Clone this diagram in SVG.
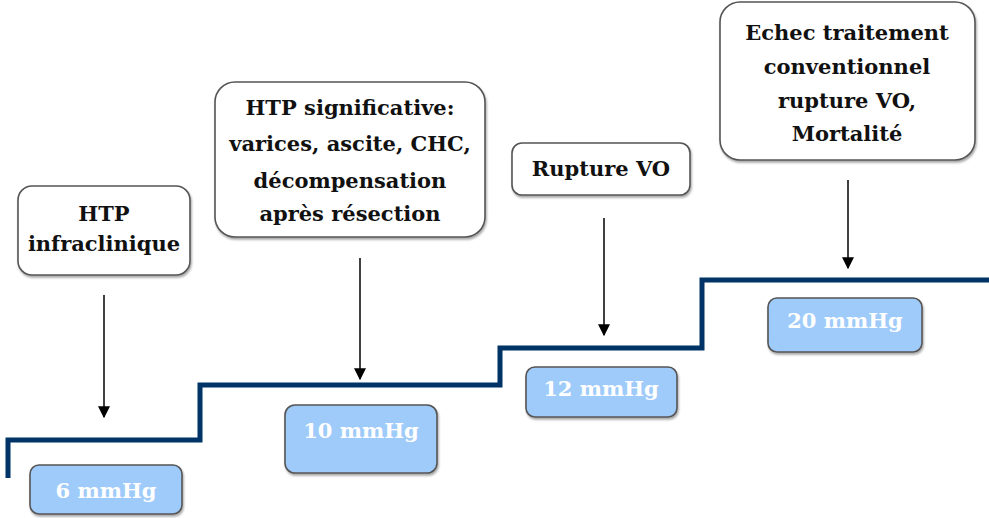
<svg xmlns="http://www.w3.org/2000/svg" width="989" height="518" viewBox="0 0 989 518">
  <defs>
    <marker id="arrow" viewBox="0 0 10 10" refX="9" refY="5" markerWidth="12" markerHeight="12" markerUnits="userSpaceOnUse" orient="auto">
      <path d="M0,0 L10,5 L0,10 z" fill="#000"/>
    </marker>
    <filter id="shadow" x="-10%" y="-10%" width="120%" height="130%">
      <feDropShadow dx="1" dy="2" stdDeviation="1.2" flood-color="#000" flood-opacity="0.35"/>
    </filter>
  </defs>
  <style>
    .box { fill: #ffffff; stroke: #555555; stroke-width: 1.6; filter: url(#shadow); }
    .pbox { fill: #9fcbfa; stroke: #555555; stroke-width: 1.6; filter: url(#shadow); }
    .lbl { font-family: "DejaVu Serif", "Liberation Serif", serif; font-weight: bold; font-size: 21px; fill: #111111; text-anchor: middle; }
    .plbl { font-family: "DejaVu Serif", "Liberation Serif", serif; font-weight: bold; font-size: 21px; fill: #ffffff; text-anchor: middle; }
    .arr { stroke: #000; stroke-width: 1.5; fill: none; marker-end: url(#arrow); }
    .stair { stroke: #003366; stroke-width: 5; fill: none; }
  </style>

  <rect width="989" height="518" fill="#ffffff"/>

  <!-- pressure staircase and arrows -->
  <g id="connectors">
    <path class="stair" d="M8,478 V440 H200 V385 H500 V348 H702 V280 H989"/>
    <line class="arr" x1="104" y1="295" x2="104" y2="417"/>
    <line class="arr" x1="360" y1="258" x2="360" y2="379"/>
    <line class="arr" x1="604" y1="218" x2="604" y2="335"/>
    <line class="arr" x1="848" y1="180" x2="848" y2="268"/>
  </g>

  <g id="node-infraclinique">
    <rect class="box" x="18" y="186" width="172" height="89" rx="14"/>
    <text class="lbl" x="104" y="221">HTP</text>
    <text class="lbl" x="104" y="251">infraclinique</text>
  </g>

  <g id="node-significative">
    <rect class="box" x="215" y="82" width="270" height="155" rx="20"/>
    <text class="lbl" x="350" y="115">HTP significative:</text>
    <text class="lbl" x="350" y="151">varices, ascite, CHC,</text>
    <text class="lbl" x="350" y="188">décompensation</text>
    <text class="lbl" x="350" y="221">après résection</text>
  </g>

  <g id="node-rupture">
    <rect class="box" x="512" y="143" width="178" height="52" rx="10"/>
    <text class="lbl" x="601" y="176">Rupture VO</text>
  </g>

  <g id="node-echec">
    <rect class="box" x="720" y="2" width="255" height="158" rx="20"/>
    <text class="lbl" x="847" y="40">Echec traitement</text>
    <text class="lbl" x="847" y="74">conventionnel</text>
    <text class="lbl" x="847" y="108">rupture VO,</text>
    <text class="lbl" x="847" y="141">Mortalité</text>
  </g>

  <g id="p6">
    <rect class="pbox" x="30" y="465" width="152" height="49" rx="9"/>
    <text class="plbl" x="106" y="498">6 mmHg</text>
  </g>

  <g id="p10">
    <rect class="pbox" x="285" y="405" width="152" height="68" rx="10"/>
    <text class="plbl" x="361" y="438">10 mmHg</text>
  </g>

  <g id="p12">
    <rect class="pbox" x="526" y="367" width="151" height="50" rx="9"/>
    <text class="plbl" x="601" y="396">12 mmHg</text>
  </g>

  <g id="p20">
    <rect class="pbox" x="768" y="298" width="154" height="54" rx="9"/>
    <text class="plbl" x="845" y="328">20 mmHg</text>
  </g>
</svg>
